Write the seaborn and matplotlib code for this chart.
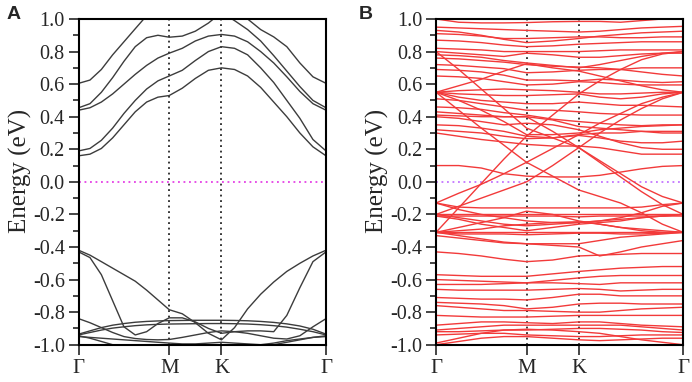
import matplotlib
matplotlib.use("Agg")
import matplotlib.pyplot as plt
from matplotlib.ticker import MultipleLocator
import seaborn as sns
import pandas as pd

# === k-path (Gamma - M - K - Gamma) ===
k_ticks = [0.0, 0.866, 1.366, 2.366]
k_labels = ["Γ", "M", "K", "Γ"]

# sample points along the path for each panel
kA = [0.0, 0.108, 0.217, 0.325, 0.433, 0.541, 0.650, 0.758, 0.866,
      0.991, 1.116, 1.241, 1.366,
      1.491, 1.616, 1.741, 1.866, 1.991, 2.116, 2.241, 2.366]
kB = [0.0, 0.217, 0.433, 0.650, 0.866, 1.116, 1.366, 1.566, 1.766, 1.966, 2.166, 2.366]

# === Panel A bands (eV, read at kA) ===
bands_A = {
    "c1": [0.16, 0.17, 0.205, 0.27, 0.35, 0.43, 0.49, 0.52, 0.53, 0.575, 0.635, 0.685, 0.70,
           0.69, 0.65, 0.58, 0.49, 0.40, 0.30, 0.215, 0.16],
    "c2": [0.19, 0.205, 0.255, 0.33, 0.42, 0.50, 0.57, 0.62, 0.65, 0.685, 0.745, 0.80, 0.83,
           0.82, 0.78, 0.70, 0.61, 0.50, 0.39, 0.26, 0.19],
    "c3": [0.44, 0.455, 0.49, 0.54, 0.60, 0.66, 0.715, 0.76, 0.79, 0.82, 0.865, 0.895, 0.905,
           0.895, 0.86, 0.80, 0.73, 0.645, 0.555, 0.48, 0.44],
    "c4": [0.455, 0.48, 0.55, 0.64, 0.74, 0.83, 0.885, 0.90, 0.888, 0.895, 0.925, 0.975, 1.04,
           0.99, 0.935, 0.865, 0.775, 0.68, 0.585, 0.50, 0.455],
    "c5": [0.605, 0.625, 0.69, 0.78, 0.86, 0.94, 1.02, 1.08, 1.12, 1.15, 1.16, 1.16, 1.15,
           1.08, 1.00, 0.935, 0.89, 0.83, 0.73, 0.645, 0.605],
    "v1": [-0.42, -0.45, -0.49, -0.53, -0.57, -0.61, -0.665, -0.725, -0.785, -0.81, -0.865, -0.93, -0.97,
           -0.895, -0.78, -0.69, -0.615, -0.55, -0.50, -0.455, -0.42],
    "v2": [-0.43, -0.465, -0.57, -0.73, -0.89, -0.94, -0.92, -0.87, -0.835, -0.835, -0.86, -0.90, -0.93,
           -0.92, -0.915, -0.915, -0.92, -0.82, -0.65, -0.49, -0.43],
    "v3": [-0.935, -0.915, -0.895, -0.88, -0.87, -0.862, -0.857, -0.854, -0.852, -0.851, -0.85, -0.85, -0.85,
           -0.851, -0.853, -0.857, -0.863, -0.872, -0.885, -0.905, -0.935],
    "v4": [-0.94, -0.925, -0.91, -0.898, -0.89, -0.883, -0.878, -0.875, -0.873, -0.872, -0.871, -0.87, -0.87,
           -0.871, -0.873, -0.877, -0.883, -0.892, -0.905, -0.92, -0.94],
    "v5": [-0.84, -0.865, -0.895, -0.925, -0.95, -0.962, -0.968, -0.97, -0.968, -0.955, -0.94, -0.925, -0.915,
           -0.92, -0.93, -0.945, -0.96, -0.965, -0.945, -0.89, -0.84],
    "v6": [-0.945, -0.96, -0.98, -1.0, -1.02, -1.04, -1.05, -1.06, -1.06, -1.06, -1.05, -1.04, -1.03,
           -1.02, -1.02, -1.01, -1.0, -0.985, -0.97, -0.955, -0.945],
    "v7": [-0.95, -0.955, -0.96, -0.965, -0.97, -0.975, -0.98, -0.985, -0.99, -0.995, -0.995, -0.99, -0.985,
           -0.99, -0.995, -1.0, -0.99, -0.975, -0.965, -0.955, -0.95],
}

# === Panel B bands (eV, read at kB) ===
bands_B = {
    # upper, mostly flat
    "u1": [1.00, 0.98, 0.976, 0.976, 0.978, 0.983, 0.985, 0.985, 0.98, 0.99, 1.00, 1.01],
    "u2": [0.95, 0.945, 0.94, 0.935, 0.93, 0.925, 0.92, 0.925, 0.935, 0.945, 0.95, 0.955],
    "u3": [0.93, 0.92, 0.90, 0.875, 0.855, 0.865, 0.88, 0.895, 0.905, 0.915, 0.92, 0.925],
    "u4": [0.91, 0.905, 0.895, 0.88, 0.88, 0.885, 0.89, 0.89, 0.885, 0.885, 0.89, 0.89],
    "u5": [0.87, 0.865, 0.855, 0.84, 0.83, 0.835, 0.845, 0.85, 0.855, 0.86, 0.86, 0.86],
    "u6": [0.82, 0.815, 0.81, 0.80, 0.80, 0.80, 0.80, 0.805, 0.81, 0.81, 0.81, 0.81],
    "u7": [0.80, 0.79, 0.78, 0.77, 0.79, 0.78, 0.765, 0.765, 0.775, 0.785, 0.79, 0.79],
    "u8": [0.78, 0.775, 0.765, 0.745, 0.73, 0.715, 0.70, 0.72, 0.745, 0.77, 0.79, 0.80],
    "u9": [0.76, 0.755, 0.745, 0.735, 0.72, 0.71, 0.705, 0.70, 0.69, 0.675, 0.66, 0.65],
    "u10": [0.72, 0.715, 0.705, 0.695, 0.67, 0.675, 0.685, 0.69, 0.69, 0.70, 0.70, 0.70],
    "u11": [0.69, 0.685, 0.675, 0.655, 0.625, 0.625, 0.62, 0.63, 0.625, 0.615, 0.61, 0.615],
    "u12": [0.65, 0.645, 0.635, 0.615, 0.595, 0.60, 0.615, 0.61, 0.60, 0.595, 0.595, 0.595],
    "u13": [0.51, 0.50, 0.48, 0.46, 0.44, 0.44, 0.43, 0.42, 0.415, 0.41, 0.41, 0.41],
    "u14": [0.46, 0.455, 0.445, 0.425, 0.41, 0.385, 0.37, 0.36, 0.35, 0.345, 0.35, 0.35],
    "u15": [0.43, 0.42, 0.41, 0.40, 0.40, 0.38, 0.34, 0.33, 0.32, 0.31, 0.30, 0.30],
    "u16": [0.40, 0.39, 0.37, 0.35, 0.36, 0.35, 0.32, 0.28, 0.24, 0.21, 0.20, 0.20],
    "u17": [0.35, 0.345, 0.33, 0.31, 0.28, 0.27, 0.29, 0.30, 0.30, 0.31, 0.31, 0.31],
    "u18": [0.32, 0.31, 0.30, 0.28, 0.265, 0.27, 0.285, 0.27, 0.25, 0.24, 0.24, 0.25],
    "u19": [0.30, 0.28, 0.26, 0.245, 0.23, 0.22, 0.22, 0.21, 0.19, 0.17, 0.17, 0.17],
    "z1": [0.10, 0.10, 0.085, 0.05, 0.035, 0.03, 0.03, 0.04, 0.06, 0.08, 0.095, 0.10],
    # fan from Gamma at 0.55 eV and dispersive crossings
    "d7": [0.55, 0.50, 0.44, 0.37, 0.29, 0.29, 0.30, 0.32, 0.33, 0.34, 0.345, 0.35],
    "d8": [0.55, 0.59, 0.63, 0.68, 0.725, 0.70, 0.68, 0.65, 0.62, 0.59, 0.565, 0.55],
    "d9": [0.55, 0.56, 0.565, 0.57, 0.565, 0.56, 0.55, 0.54, 0.54, 0.545, 0.55, 0.55],
    "d10": [0.55, 0.54, 0.535, 0.53, 0.53, 0.535, 0.54, 0.52, 0.51, 0.52, 0.54, 0.55],
    "d11": [0.55, 0.52, 0.50, 0.49, 0.48, 0.48, 0.49, 0.48, 0.47, 0.47, 0.465, 0.46],
    "d1": [0.55, 0.44, 0.33, 0.225, 0.12, 0.035, -0.05, -0.09, -0.13, -0.19, -0.26, -0.31],
    "d2": [-0.13, -0.07, -0.015, 0.05, 0.12, 0.205, 0.29, 0.36, 0.42, 0.48, 0.52, 0.55],
    "d3": [0.80, 0.69, 0.57, 0.45, 0.33, 0.27, 0.21, 0.13, 0.05, -0.03, -0.09, -0.13],
    "d4": [-0.31, -0.16, -0.01, 0.14, 0.28, 0.41, 0.54, 0.62, 0.69, 0.75, 0.785, 0.80],
    "d5": [-0.20, -0.15, -0.10, -0.05, 0.0, 0.10, 0.21, 0.30, 0.38, 0.45, 0.51, 0.55],
    "d6": [0.41, 0.405, 0.40, 0.40, 0.40, 0.31, 0.21, 0.12, 0.03, -0.06, -0.14, -0.20],
    # dense valence block
    "w1": [-0.13, -0.155, -0.16, -0.16, -0.16, -0.16, -0.16, -0.16, -0.16, -0.155, -0.14, -0.13],
    "w2": [-0.13, -0.17, -0.20, -0.22, -0.24, -0.25, -0.25, -0.24, -0.22, -0.19, -0.15, -0.13],
    "w3": [-0.20, -0.20, -0.20, -0.20, -0.20, -0.20, -0.20, -0.20, -0.20, -0.20, -0.20, -0.20],
    "w4": [-0.21, -0.21, -0.21, -0.21, -0.21, -0.21, -0.215, -0.21, -0.21, -0.21, -0.21, -0.21],
    "w5": [-0.20, -0.22, -0.24, -0.26, -0.27, -0.26, -0.25, -0.24, -0.23, -0.22, -0.21, -0.20],
    "w6": [-0.21, -0.23, -0.26, -0.28, -0.30, -0.28, -0.26, -0.25, -0.24, -0.22, -0.21, -0.20],
    "w7": [-0.31, -0.31, -0.31, -0.31, -0.31, -0.31, -0.31, -0.31, -0.31, -0.31, -0.31, -0.31],
    "w8": [-0.31, -0.32, -0.32, -0.32, -0.325, -0.32, -0.315, -0.315, -0.32, -0.32, -0.315, -0.31],
    "w9": [-0.31, -0.28, -0.25, -0.22, -0.18, -0.20, -0.24, -0.26, -0.28, -0.30, -0.31, -0.31],
    "w10": [-0.31, -0.30, -0.29, -0.27, -0.26, -0.25, -0.245, -0.26, -0.28, -0.29, -0.30, -0.31],
    "w11": [-0.33, -0.345, -0.36, -0.375, -0.38, -0.39, -0.40, -0.455, -0.43, -0.40, -0.38, -0.36],
    "w12": [-0.31, -0.33, -0.35, -0.37, -0.38, -0.38, -0.38, -0.36, -0.34, -0.33, -0.32, -0.31],
    # lower, mostly flat
    "l1": [-0.43, -0.44, -0.455, -0.475, -0.49, -0.48, -0.455, -0.45, -0.445, -0.44, -0.44, -0.44],
    "l2": [-0.57, -0.575, -0.58, -0.58, -0.58, -0.565, -0.55, -0.54, -0.53, -0.525, -0.52, -0.52],
    "l3": [-0.60, -0.605, -0.61, -0.615, -0.62, -0.605, -0.59, -0.58, -0.575, -0.575, -0.575, -0.575],
    "l4": [-0.63, -0.63, -0.63, -0.625, -0.62, -0.62, -0.625, -0.63, -0.62, -0.62, -0.62, -0.62],
    "l5": [-0.66, -0.665, -0.665, -0.665, -0.665, -0.66, -0.655, -0.66, -0.67, -0.665, -0.66, -0.66],
    "l6": [-0.71, -0.715, -0.72, -0.72, -0.725, -0.71, -0.69, -0.69, -0.70, -0.70, -0.70, -0.70],
    "l7": [-0.74, -0.745, -0.75, -0.76, -0.78, -0.77, -0.75, -0.745, -0.745, -0.75, -0.75, -0.75],
    "l8": [-0.76, -0.77, -0.78, -0.79, -0.79, -0.795, -0.80, -0.80, -0.79, -0.78, -0.775, -0.77],
    "l9": [-0.82, -0.825, -0.83, -0.83, -0.83, -0.825, -0.82, -0.82, -0.82, -0.82, -0.82, -0.82],
    "l10": [-0.88, -0.87, -0.86, -0.86, -0.865, -0.87, -0.86, -0.86, -0.87, -0.88, -0.885, -0.89],
    "l11": [-0.91, -0.90, -0.89, -0.88, -0.88, -0.88, -0.88, -0.88, -0.88, -0.89, -0.90, -0.91],
    "l12": [-0.92, -0.92, -0.915, -0.91, -0.91, -0.905, -0.90, -0.90, -0.905, -0.91, -0.92, -0.925],
    "l13": [-0.94, -0.935, -0.93, -0.93, -0.94, -0.945, -0.95, -0.95, -0.945, -0.94, -0.94, -0.94],
    "l14": [-0.99, -0.96, -0.93, -0.91, -0.905, -0.91, -0.92, -0.93, -0.95, -0.97, -0.985, -1.0],
    "l15": [-1.0, -0.98, -0.96, -0.95, -0.95, -0.96, -0.97, -0.975, -0.97, -0.965, -0.96, -0.96],
}


def to_long(k, bands):
    rows = []
    for name, vals in bands.items():
        for kk, e in zip(k, vals):
            rows.append({"k": kk, "E": e, "band": name})
    return pd.DataFrame(rows)


df_A = to_long(kA, bands_A)
df_B = to_long(kB, bands_B)

# === Style ===
sns.set_style("ticks")
plt.rcParams["font.family"] = ["Liberation Serif", "DejaVu Serif"]
plt.rcParams["axes.unicode_minus"] = False

fig = plt.figure(figsize=(6.92, 3.82), dpi=100)
ax_A = fig.add_axes([0.1137, 0.0976, 0.3574, 0.8527])
ax_B = fig.add_axes([0.6301, 0.0976, 0.3573, 0.8527])

panels = [(ax_A, df_A, "#3c3c3c", "#e020e0", "A", 0.010),
          (ax_B, df_B, "#f23a3a", "#b85cff", "B", 0.518)]

for ax, df, col, zcol, letter, lx in panels:
    sns.lineplot(data=df, x="k", y="E", units="band", estimator=None, sort=False,
                 color=col, linewidth=1.0, legend=False, ax=ax)
    for kk in k_ticks[1:3]:
        ax.axvline(kk, color="black", linestyle=(0, (1.2, 2.4)), linewidth=1.1, zorder=1)
    ax.axhline(0.0, color=zcol, linestyle=(0, (1.2, 2.4)), linewidth=1.1, zorder=1)

    ax.set_xlim(k_ticks[0], k_ticks[-1])
    ax.set_ylim(-1.0, 1.0)
    ax.set_xticks(k_ticks)
    ax.set_xticklabels(k_labels, fontsize=15)
    ax.yaxis.set_major_locator(MultipleLocator(0.2))
    ax.yaxis.set_minor_locator(MultipleLocator(0.1))
    ax.yaxis.set_major_formatter(plt.FuncFormatter(lambda v, p: f"{v:.1f}"))
    ax.tick_params(axis="y", which="major", labelsize=14.5, direction="out", length=7, width=1.2, pad=3)
    ax.tick_params(axis="y", which="minor", direction="out", length=4, width=1.2)
    ax.tick_params(axis="x", which="major", direction="out", length=7, width=1.2, pad=3)
    for side in ["left", "right", "top", "bottom"]:
        ax.spines[side].set_linewidth(1.5)
        ax.spines[side].set_color("black")
    ax.set_xlabel("")
    ax.set_ylabel("Energy (eV)", fontsize=18)
    ax.yaxis.set_label_coords(-0.19, 0.535)

    fig.text(lx, 0.985, letter, fontsize=14, fontweight="bold",
             family="Liberation Sans", ha="left", va="top")

plt.savefig("out.png", dpi=100)
plt.close()
